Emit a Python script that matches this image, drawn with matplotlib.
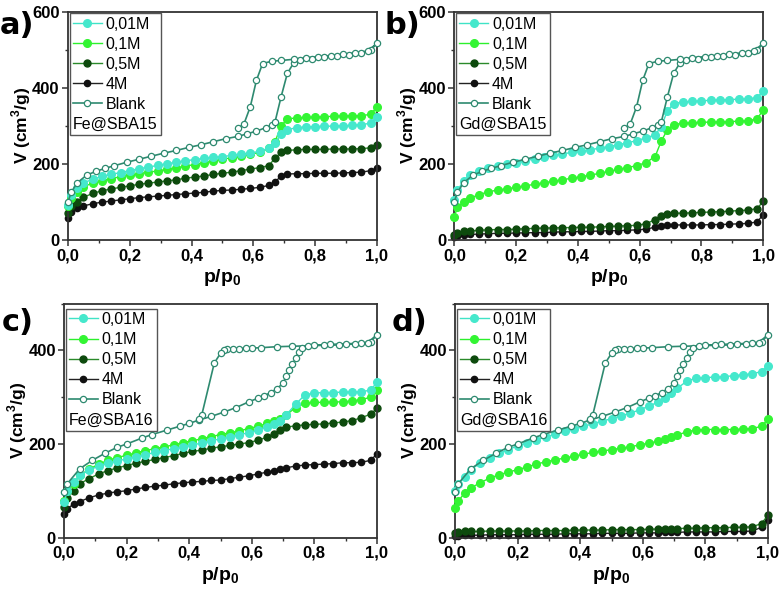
import matplotlib
matplotlib.use('Agg')
import matplotlib.pyplot as plt
from matplotlib.ticker import MultipleLocator, FuncFormatter

plt.rcParams['font.family'] = ['Liberation Sans', 'DejaVu Sans']
plt.rcParams['mathtext.fontset'] = 'custom'
plt.rcParams['mathtext.rm'] = 'Liberation Sans'
plt.rcParams['mathtext.bf'] = 'Liberation Sans:bold'

# relative pressure grid shared by the sample isotherms
p_sample = [0.0, 0.01, 0.03, 0.05, 0.08, 0.11, 0.14, 0.17, 0.20, 0.23, 0.26, 0.29, 0.32,
            0.35, 0.38, 0.41, 0.44, 0.47, 0.50, 0.53, 0.56, 0.59, 0.62, 0.65, 0.67, 0.69,
            0.71, 0.74, 0.77, 0.80, 0.83, 0.86, 0.89, 0.92, 0.95, 0.98, 1.0]

# a) Fe@SBA15
fe15_001 = [92, 118, 136, 150, 159, 167, 172, 177, 182, 187, 191, 196, 200, 204, 208, 211, 214, 217,
            219, 222, 225, 228, 233, 241, 254, 278, 290, 295, 297, 298, 299, 299, 300, 301, 303, 307, 324]
fe15_01 = [88, 110, 127, 140, 149, 155, 161, 166, 171, 174, 178, 181, 185, 189, 194, 198, 203, 207,
           212, 216, 220, 225, 230, 241, 258, 300, 318, 321, 322, 323, 324, 325, 326, 326, 327, 330, 350]
fe15_05 = [70, 88, 100, 112, 122, 129, 134, 138, 142, 146, 149, 152, 155, 158, 162, 165, 168, 172,
           175, 178, 182, 186, 190, 195, 215, 230, 235, 237, 238, 238, 238, 239, 239, 239, 240, 242, 250]
fe15_4 = [57, 72, 83, 89, 95, 99, 102, 105, 108, 111, 113, 115, 117, 119, 121, 123, 125, 128,
          130, 131, 133, 135, 138, 143, 152, 168, 173, 174, 174, 175, 175, 175, 176, 177, 178, 182, 188]

# b) Gd@SBA15
gd15_001 = [105, 130, 155, 171, 181, 189, 194, 199, 203, 208, 213, 218, 222, 226, 230, 233, 237, 241,
            245, 250, 255, 261, 268, 276, 298, 340, 358, 363, 364, 366, 367, 368, 369, 370, 371, 374, 392]
gd15_01 = [61, 85, 100, 109, 119, 126, 131, 134, 138, 142, 146, 150, 154, 158, 162, 166, 170, 175,
           180, 185, 190, 195, 203, 219, 260, 290, 303, 307, 308, 309, 310, 310, 311, 312, 313, 318, 342]
gd15_05 = [13, 18, 22, 23, 25, 26, 27, 27, 28, 29, 30, 31, 31, 32, 32, 33, 33, 34,
           35, 36, 37, 38, 42, 53, 62, 68, 70, 70, 71, 72, 73, 74, 75, 77, 78, 82, 101]
gd15_4 = [7, 10, 13, 14, 15, 16, 17, 17, 18, 18, 19, 19, 20, 21, 21, 22, 22, 23,
          24, 24, 25, 26, 28, 33, 37, 39, 39, 39, 39, 39, 40, 40, 41, 42, 43, 47, 66]

# c) Fe@SBA16
fe16_001 = [75, 100, 118, 133, 144, 153, 159, 164, 168, 173, 177, 182, 186, 190, 194, 198, 202, 207,
            211, 215, 220, 224, 230, 237, 243, 250, 262, 285, 305, 309, 310, 310, 311, 311, 312, 315, 332]
fe16_01 = [79, 100, 115, 133, 146, 157, 165, 171, 176, 181, 186, 190, 194, 198, 203, 207, 211, 216,
           220, 224, 228, 233, 238, 244, 249, 254, 262, 278, 287, 289, 289, 290, 290, 292, 295, 300, 315]
fe16_05 = [65, 85, 100, 115, 126, 136, 143, 149, 154, 159, 163, 167, 171, 175, 180, 184, 187, 191,
           194, 197, 200, 203, 208, 215, 222, 230, 236, 239, 241, 242, 243, 245, 247, 250, 256, 264, 276]
fe16_4 = [50, 62, 71, 77, 85, 91, 95, 98, 100, 104, 107, 110, 112, 115, 117, 119, 120, 122,
          123, 126, 129, 132, 136, 140, 142, 146, 149, 153, 155, 156, 157, 158, 160, 160, 161, 165, 179]

# d) Gd@SBA16
gd16_001 = [100, 115, 130, 145, 159, 171, 180, 188, 196, 203, 209, 215, 221, 227, 232, 238, 243, 249,
            254, 260, 266, 273, 281, 290, 299, 309, 319, 334, 341, 342, 343, 344, 346, 348, 350, 355, 367]
gd16_01 = [63, 78, 95, 106, 117, 127, 134, 140, 145, 151, 157, 162, 166, 170, 174, 178, 182, 185,
           188, 191, 194, 198, 202, 206, 210, 214, 219, 226, 230, 231, 231, 231, 231, 232, 233, 238, 253]
gd16_05 = [10, 12, 13, 13, 13, 14, 14, 14, 14, 14, 15, 15, 15, 15, 16, 16, 16, 16,
           17, 17, 17, 17, 18, 18, 18, 19, 19, 20, 20, 21, 21, 21, 22, 22, 23, 30, 48]
gd16_4 = [3, 4, 5, 5, 5, 6, 6, 6, 6, 7, 7, 7, 7, 8, 8, 8, 8, 9,
          9, 9, 9, 10, 10, 10, 11, 11, 11, 12, 12, 12, 12, 13, 13, 13, 14, 22, 38]

# blank SBA15: adsorption then desorption branch
p_blank15 = [0.0, 0.01, 0.03, 0.06, 0.09, 0.12, 0.15, 0.19, 0.23, 0.27, 0.31, 0.35, 0.39, 0.43, 0.47,
             0.51, 0.55, 0.58, 0.61, 0.64, 0.66, 0.67, 0.69, 0.71, 0.73, 0.75, 0.79, 0.83, 0.87, 0.91,
             0.95, 0.98, 1.0,
             0.97, 0.93, 0.89, 0.85, 0.81, 0.77, 0.73, 0.69, 0.66, 0.63, 0.61, 0.59, 0.57, 0.55]
v_blank15 = [100, 125, 150, 170, 180, 188, 195, 204, 212, 220, 228, 235, 243, 250, 258,
             266, 272, 279, 286, 295, 302, 310, 377, 438, 465, 473, 477, 480, 483, 486,
             491, 499, 517,
             497, 492, 488, 485, 482, 479, 475, 472, 470, 464, 420, 350, 306, 293]

# blank SBA16: adsorption then desorption branch
p_blank16 = [0.0, 0.01, 0.05, 0.09, 0.13, 0.17, 0.20, 0.25, 0.28, 0.33, 0.37, 0.40, 0.43, 0.47, 0.51,
             0.55, 0.59, 0.62, 0.64, 0.66, 0.68, 0.70, 0.71, 0.72, 0.73, 0.74, 0.75, 0.76, 0.80, 0.85,
             0.90, 0.95, 0.98, 1.0,
             0.97, 0.93, 0.88, 0.83, 0.78, 0.73, 0.68, 0.63, 0.60, 0.58, 0.56, 0.54, 0.52, 0.51, 0.50,
             0.48, 0.44, 0.43]
v_blank16 = [97, 115, 147, 165, 180, 193, 200, 213, 220, 230, 238, 244, 251, 259, 268,
             278, 290, 298, 303, 310, 318, 330, 345, 358, 370, 383, 397, 405, 411, 413,
             414, 416, 418, 434,
             416, 414, 412, 411, 410, 409, 408, 406, 405, 405, 404, 404, 403, 400, 394,
             373, 262, 254]

series_labels = ['0,01M', '0,1M', '0,5M', '4M', 'Blank']
panel_letters = ['a)', 'b)', 'c)', 'd)']
sample_names = ['Fe@SBA15', 'Gd@SBA15', 'Fe@SBA16', 'Gd@SBA16']
y_max = [600, 600, 500, 500]

panels = [
    ([fe15_001, fe15_01, fe15_05, fe15_4], p_blank15, v_blank15),
    ([gd15_001, gd15_01, gd15_05, gd15_4], p_blank15, v_blank15),
    ([fe16_001, fe16_01, fe16_05, fe16_4], p_blank16, v_blank16),
    ([gd16_001, gd16_01, gd16_05, gd16_4], p_blank16, v_blank16),
]

# line colour, marker face, marker size, zorder
sample_styles = [
    ('#3fe3c6', '#45e8cc', 5.5, 4),
    ('#2cf02c', '#33f533', 5.5, 3),
    ('#2a8a2a', '#0d4a0d', 5.0, 2),
    ('#222222', '#111111', 4.5, 1),
]
blank_color = '#2e8a70'

# axes boxes in figure fractions: left, bottom, width, height
boxes = [
    [0.087, 0.595, 0.395, 0.385],
    [0.581, 0.595, 0.395, 0.385],
    [0.082, 0.092, 0.400, 0.395],
    [0.582, 0.092, 0.400, 0.395],
]
# panel letter positions (figure fractions, top-left of the text)
letter_pos = [(0.0, 0.982), (0.492, 0.982), (0.002, 0.480), (0.501, 0.480)]
legend_anchor = [(0.0, 1.0), (0.0, 1.0), (0.0, 0.985), (0.0, 0.985)]

fig = plt.figure(figsize=(7.82, 5.92), dpi=100)

for i, (samples, p_blank, v_blank) in enumerate(panels):
    ax = fig.add_axes(boxes[i])
    handles = []
    for v, lab, (lc, mfc, ms, z) in zip(samples, series_labels, sample_styles):
        h, = ax.plot(p_sample, v, color=lc, lw=1.0, marker='o', ms=ms, mfc=mfc, mec=mfc,
                     label=lab, zorder=z, clip_on=False)
        handles.append(h)
    h, = ax.plot(p_blank, v_blank, color=blank_color, lw=1.2, marker='o', ms=4.5,
                 mfc='white', mec=blank_color, mew=0.9, label='Blank', zorder=5, clip_on=False)
    handles.append(h)

    ax.set_xlim(0, 1.0)
    ax.set_ylim(0, y_max[i])
    ax.xaxis.set_major_locator(MultipleLocator(0.2))
    ax.xaxis.set_minor_locator(MultipleLocator(0.1))
    ax.yaxis.set_major_locator(MultipleLocator(200))
    ax.yaxis.set_minor_locator(MultipleLocator(100))
    ax.xaxis.set_major_formatter(FuncFormatter(lambda x, pos: f'{x:.1f}'.replace('.', ',')))
    ax.yaxis.set_major_formatter(FuncFormatter(lambda y, pos: f'{y:.0f}'))
    ax.tick_params(which='major', direction='out', length=4, width=1.1, labelsize=12, pad=2,
                   color='#333333')
    ax.tick_params(which='minor', direction='out', length=2.5, width=1.0, color='#333333')
    for t in ax.get_xticklabels() + ax.get_yticklabels():
        t.set_fontweight('bold')
    for sp in ax.spines.values():
        sp.set_linewidth(1.3)
        sp.set_color('#333333')

    ax.set_xlabel(r'p/p$_\mathbf{0}$', fontsize=14, fontweight='bold', labelpad=3)
    ax.set_ylabel(r'V (cm$^\mathbf{3}$/g)', fontsize=12.5, fontweight='bold', labelpad=-0.5)

    leg = ax.legend(handles=handles, loc='upper left', bbox_to_anchor=legend_anchor[i],
                    title=sample_names[i], alignment='left',
                    fontsize=11.5, title_fontsize=11.5, frameon=True, fancybox=False,
                    edgecolor='#555555', framealpha=1, borderaxespad=0.1, borderpad=0.2,
                    labelspacing=0.32, handlelength=1.8, handletextpad=0.25)
    leg.get_frame().set_linewidth(1.0)
    # sample name goes under the entries, as in the original figure
    leg._legend_box._children = leg._legend_box._children[::-1]

    fig.text(letter_pos[i][0], letter_pos[i][1], panel_letters[i], fontsize=22,
             fontweight='bold', ha='left', va='top', family='DejaVu Sans')

fig.savefig('out.png', dpi=100)
